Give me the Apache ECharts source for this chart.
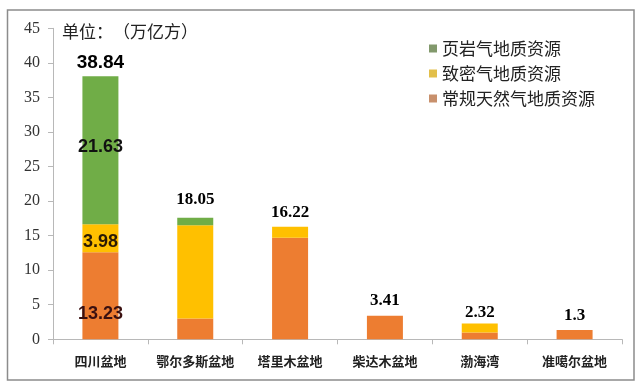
<!DOCTYPE html>
<html>
<head>
<meta charset="utf-8">
<script src="https://cdn.jsdelivr.net/npm/echarts@6/dist/echarts.min.js"></script>
<style>
html,body{margin:0;padding:0;background:#fff;}
#chart{width:637px;height:389px;}
</style>
</head>
<body>
<div id="chart"></div>
<script>
// ---- data ----
var categories = ['四川盆地', '鄂尔多斯盆地', '塔里木盆地', '柴达木盆地', '渤海湾', '准噶尔盆地'];
var seriesNames = ['常规天然气地质资源', '致密气地质资源', '页岩气地质资源'];
var conventional = [12.6, 3.0, 14.7, 3.4, 1.0, 1.35];
var tight = [4.05, 13.5, 1.6, 0, 1.3, 0];
var shale = [21.4, 1.1, 0, 0, 0, 0];
var totalLabels = ['38.84', '18.05', '16.22', '3.41', '2.32', '1.3'];
var firstBarLabels = ['13.23', '3.98', '21.63']; // conventional, tight, shale for 四川盆地
var yTicks = [0, 5, 10, 15, 20, 25, 30, 35, 40, 45];
var unitText = '单位：\u200B（万亿方）';

// ---- styles ----
var colors = ['#ED7D31', '#FFC000', '#70AD47'];
var legendColors = ['#C8906C', '#E2BF4A', '#82996C'];
var cjk = '"Noto Sans CJK SC", sans-serif';
var serif = '"Liberation Serif", "DejaVu Serif", serif';
var sans = '"Liberation Sans", Arial, sans-serif';
var segLabelColors = ['#3a1010', '#2a1a05', '#111111'];
var segLabelPos = [
  { position: 'insideBottom', distance: 16 },
  { position: 'inside', offset: [0, 4] },
  { position: 'inside', offset: [0, -3] }
];
var totalGap = [4, 10, 6, 7, 2, 6];

var valueArrays = [conventional, tight, shale];

function buildBarData(arr, si) {
  return arr.map(function (v, i) {
    if (i === 0) {
      return {
        value: v,
        label: Object.assign({
          show: true,
          formatter: firstBarLabels[si],
          fontFamily: sans,
          fontWeight: 'bold',
          fontSize: 18,
          color: segLabelColors[si]
        }, segLabelPos[si])
      };
    }
    return v;
  });
}

var barSeries = seriesNames.map(function (name, si) {
  return {
    name: name,
    type: 'bar',
    stack: 'total',
    barWidth: 36,
    itemStyle: { color: colors[si] },
    data: buildBarData(valueArrays[si], si),
    silent: true
  };
});

var totals = categories.map(function (c, i) {
  return conventional[i] + tight[i] + shale[i];
});

var totalSeries = {
  type: 'scatter',
  name: 'total',
  symbolSize: 0,
  silent: true,
  itemStyle: { opacity: 1, color: '#111' },
  data: totals.map(function (t, i) {
    return {
      value: [i, t],
      label: {
        show: true,
        position: 'top',
        distance: totalGap[i],
        formatter: totalLabels[i],
        fontFamily: i === 0 ? sans : serif,
        fontWeight: 'bold',
        fontSize: i === 0 ? 19 : 17,
        color: '#000',
        opacity: 1
      }
    };
  })
};

var chart = echarts.init(document.getElementById('chart'), null, { renderer: 'canvas' });
chart.setOption({
  backgroundColor: '#fff',
  animation: false,
  grid: { left: 53, right: 15, top: 28.3, bottom: 49.7, containLabel: false },
  legend: {
    orient: 'vertical',
    left: 424,
    top: 35,
    itemWidth: 8,
    itemHeight: 8,
    itemGap: 8,
    icon: 'rect',
    selectedMode: false,
    textStyle: { fontFamily: cjk, fontSize: 17, lineHeight: 17, color: '#222' },
    data: [
      { name: seriesNames[2], itemStyle: { color: legendColors[2] } },
      { name: seriesNames[1], itemStyle: { color: legendColors[1] } },
      { name: seriesNames[0], itemStyle: { color: legendColors[0] } }
    ]
  },
  xAxis: {
    type: 'category',
    data: categories,
    boundaryGap: true,
    axisLine: { show: true, lineStyle: { color: '#b8b8b8', width: 1 } },
    axisTick: { show: true, alignWithLabel: false, length: 5, lineStyle: { color: '#b8b8b8' } },
    axisLabel: { fontFamily: cjk, fontWeight: 'bold', fontSize: 13, color: '#222', margin: 15, interval: 0 }
  },
  yAxis: {
    type: 'value',
    min: yTicks[0],
    max: yTicks[yTicks.length - 1],
    interval: yTicks[1] - yTicks[0],
    splitLine: { show: false },
    axisLine: { show: true, lineStyle: { color: '#b8b8b8', width: 1 } },
    axisTick: { show: true, length: 5, lineStyle: { color: '#b8b8b8' } },
    axisLabel: { fontFamily: serif, fontSize: 16, color: '#333', margin: 13 }
  },
  graphic: [
    {
      type: 'rect',
      shape: { x: 7.5, y: 10, width: 626.5, height: 370 },
      style: { fill: null, stroke: '#8c8c8c', lineWidth: 1.5 },
      silent: true,
      z: -1
    },
    {
      type: 'text',
      left: 62,
      top: 23,
      style: { text: unitText, font: '17px ' + cjk, fill: '#222' },
      silent: true
    }
  ],
  series: barSeries.concat([totalSeries])
});
</script>
</body>
</html>
